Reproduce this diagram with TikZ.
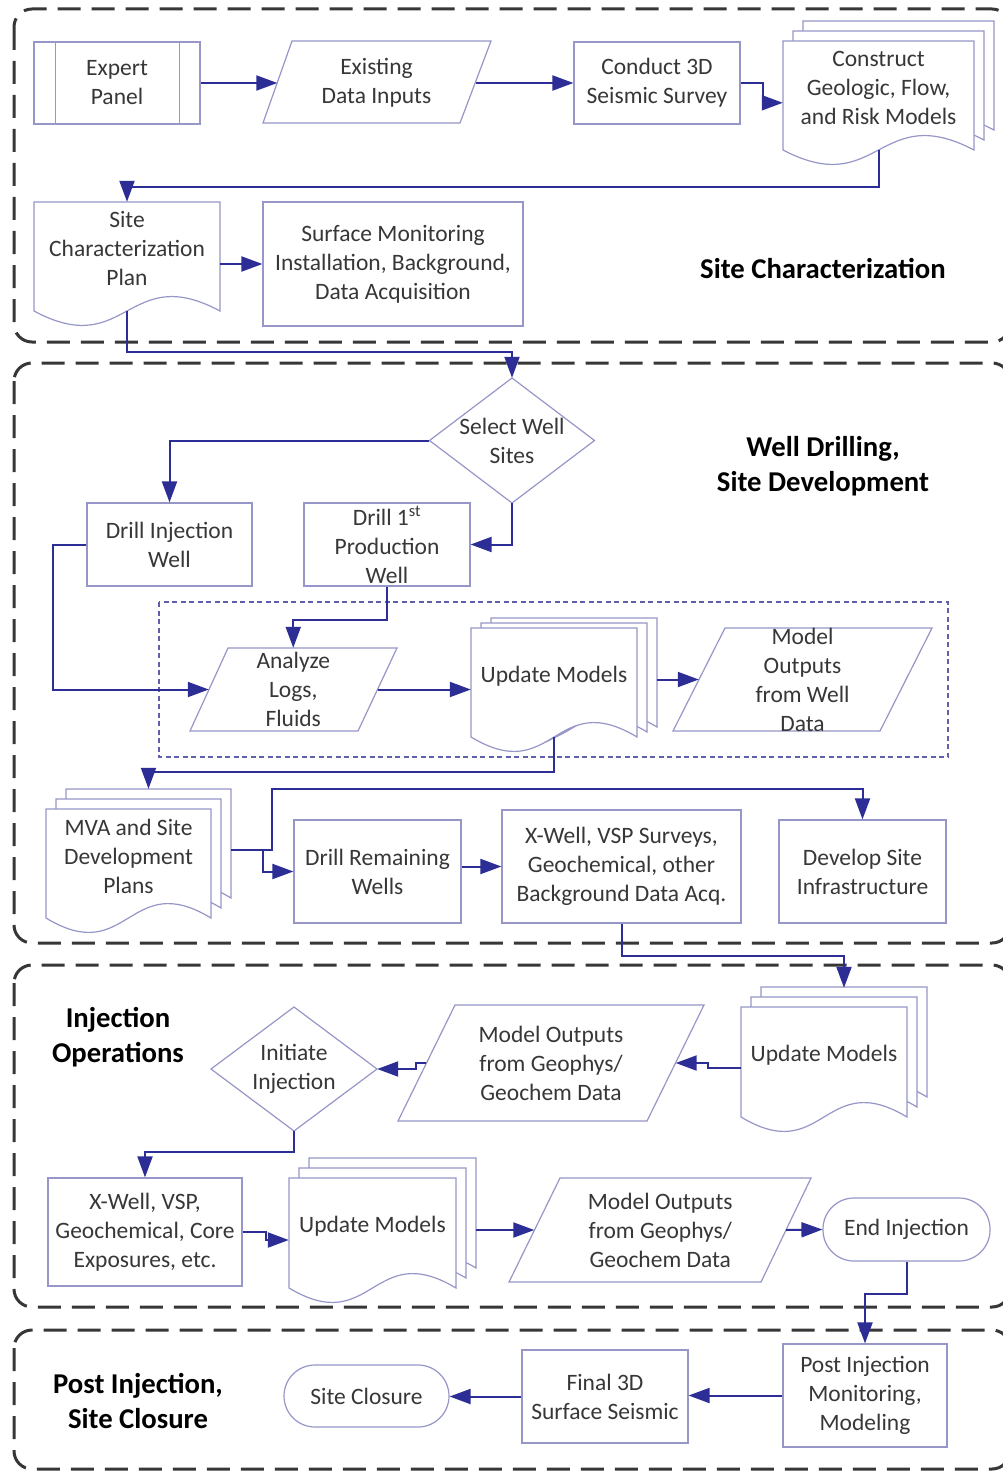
\documentclass[tikz,border=0pt]{standalone}
\usepackage{fontspec}
\setmainfont{Carlito}
\usetikzlibrary{arrows.meta,calc}
\definecolor{nb}{RGB}{150,150,200}
\definecolor{arr}{RGB}{44,46,150}
\definecolor{dsh}{RGB}{55,55,55}
\definecolor{dotc}{RGB}{95,95,170}
\definecolor{txt}{RGB}{55,55,55}
\tikzset{
 shp/.style={draw=nb, line width=1.2pt, fill=white},
 box/.style={shp, inner sep=0pt, align=center, text=txt, font=\fontsize{23.5}{29}\selectfont},
 lbl/.style={inner sep=0pt, align=center, text=txt, font=\fontsize{23.5}{29}\selectfont},
 ttl/.style={inner sep=0pt, align=center, text=black, font=\bfseries\fontsize{28.7}{35}\selectfont},
 conn/.style={draw=arr, line width=2pt, -{Triangle[length=21pt,width=15pt]}},
 sect/.style={draw=dsh, line width=3pt, dash pattern=on 23pt off 11pt, rounded corners=18pt},
 dotbox/.style={draw=dotc, line width=2pt, dash pattern=on 5pt off 3.5pt},
}
\newcommand\docpath[5]{({#1},{#2}) -- ({#3},{#2}) -- ({#3},{#4}) .. controls ({(#1+#3)/2},{#4-#5}) and ({(#1+#3)/2},{#4+#5}) .. ({#1},{#4}) -- cycle}
\newcommand\drawdoc[5]{\path[shp] \docpath{#1}{#2}{#3}{#4}{#5};}
\newcommand\multidoc[6]{%
 \drawdoc{#1+2*#5}{#2-2*#6}{#3+2*#5}{#4-2*#6}{50}%
 \drawdoc{#1+#5}{#2-#6}{#3+#5}{#4-#6}{50}%
 \drawdoc{#1}{#2}{#3}{#4}{50}}
\newcommand\mypara[6]{\path[shp] (#1,#5) -- (#2,#5) -- (#4,#6) -- (#3,#6) -- cycle;}
\begin{document}
\begin{tikzpicture}[x=1pt,y=-1pt]
\useasboundingbox (0,0) rectangle (1002,1471);
\fill[white] (0,0) rectangle (1002,1471);
% sections
\draw[sect] (14,9) rectangle (1010,342);
\draw[sect] (14,363) rectangle (1010,943);
\draw[sect] (14,965) rectangle (1010,1307);
\draw[sect] (14,1330) rectangle (1010,1469);
\draw[dotbox] (159,602) rectangle (948,757);
% ---- Site Characterization
\node[box, minimum width=166pt, minimum height=82pt] (ep) at (117,83) {Expert\\Panel};
\draw[draw=nb, line width=1.2pt] ($(ep.north west)+(22,0)$) -- ($(ep.south west)+(22,0)$);
\draw[draw=nb, line width=1.2pt] ($(ep.north east)+(-21,0)$) -- ($(ep.south east)+(-21,0)$);
\mypara{292}{491}{263}{460}{41}{123}
\node[lbl, minimum width=198pt, minimum height=82pt] (edi) at (376.5,83) {Existing\\Data Inputs};
\node[box, minimum width=166pt, minimum height=82pt] (c3d) at (657,83) {Conduct 3D\\Seismic Survey};
\multidoc{783}{41}{974}{150}{10}{10}
\node[lbl, minimum width=191pt, minimum height=94pt] (cgm) at (878.5,88) {Construct\\Geologic, Flow,\\and Risk Models};
\drawdoc{34}{202}{220}{311}{50}
\node[lbl, minimum width=186pt, minimum height=94pt] (scp) at (127,249) {Site\\Characterization\\Plan};
\node[box, minimum width=260pt, minimum height=124pt] (smi) at (393,264) {Surface Monitoring\\Installation, Background,\\Data Acquisition};
\node[ttl] (t1) at (823,269) {Site Characterization};
% ---- Well Drilling
\path[shp] (512,378) -- (594.5,440.5) -- (512,503) -- (429.5,440.5) -- cycle;
\node[lbl, minimum width=165pt, minimum height=125pt] (sws) at (512,440.5) {Select Well\\Sites};
\node[box, minimum width=165pt, minimum height=83pt] (diw) at (169.5,544.5) {Drill Injection\\Well};
\node[box, minimum width=166pt, minimum height=83pt] (dpw) at (387,544.5) {Drill 1\textsuperscript{st}\\Production\\Well};
\mypara{228}{397}{190}{358}{648}{731}
\node[lbl, minimum width=168.5pt, minimum height=83pt] (alf) at (293.25,689.5) {Analyze\\Logs,\\Fluids};
\multidoc{471}{628}{637}{737}{10}{5}
\node[lbl, minimum width=166pt, minimum height=94pt] (um1) at (554,676) {Update Models};
\mypara{725}{932}{673}{880}{628}{731}
\node[lbl, minimum width=207pt, minimum height=103pt] (mow) at (802.5,679.5) {Model\\Outputs\\from Well\\Data};
\multidoc{46}{809}{211}{918}{10}{10}
\node[lbl, minimum width=165pt, minimum height=94pt] (mva) at (128.5,856) {MVA and Site\\Development\\Plans};
\node[box, minimum width=167pt, minimum height=103pt] (drw) at (377.5,871.5) {Drill Remaining\\Wells};
\node[box, minimum width=239pt, minimum height=113pt] (xws) at (621.5,866.5) {X-Well, VSP Surveys,\\Geochemical, other\\Background Data Acq.};
\node[box, minimum width=167pt, minimum height=103pt] (dsi) at (862.5,871.5) {Develop Site\\Infrastructure};
\node[ttl] (t2) at (823,466.5) {Well Drilling,\\Site Development};
% ---- Injection Operations
\multidoc{741}{1007}{907}{1117}{10}{10}
\node[lbl, minimum width=166pt, minimum height=94pt] (um2) at (824,1055) {Update Models};
\mypara{455}{704}{398}{647}{1005}{1121}
\node[lbl, minimum width=249pt, minimum height=116pt] (mog1) at (551,1063) {Model Outputs\\from Geophys/\\Geochem Data};
\path[shp] (294,1007) -- (377,1069) -- (294,1131) -- (211,1069) -- cycle;
\node[lbl, minimum width=166pt, minimum height=124pt] (ii) at (294,1069) {Initiate\\Injection};
\node[box, minimum width=194pt, minimum height=108pt] (xwc) at (145,1232) {X-Well, VSP,\\Geochemical, Core\\Exposures, etc.};
\multidoc{289}{1178}{456}{1288}{10}{10}
\node[lbl, minimum width=167pt, minimum height=94pt] (um3) at (372.5,1226) {Update Models};
\mypara{560}{811}{509}{761}{1178}{1282}
\node[lbl, minimum width=251.5pt, minimum height=104pt] (mog2) at (660.25,1230) {Model Outputs\\from Geophys/\\Geochem Data};
\node[box, rounded corners=31pt, minimum width=167pt, minimum height=63pt] (ei) at (906.5,1229.5) {End Injection};
\node[ttl] (t3) at (118,1037.5) {Injection\\Operations};
% ---- Post Injection
\node[box, minimum width=164pt, minimum height=103pt] (pim) at (865,1395.5) {Post Injection\\Monitoring,\\Modeling};
\node[box, minimum width=166pt, minimum height=93pt] (f3d) at (605,1396.5) {Final 3D\\Surface Seismic};
\node[box, rounded corners=31pt, minimum width=165pt, minimum height=62pt] (sc) at (366.5,1396) {Site Closure};
\node[ttl] (t4) at (138,1401) {Post Injection,\\Site Closure};
% ---- connectors
\draw[conn] (ep.east) -- (edi.west);
\draw[conn] (edi.east) -- (c3d.west);
\draw[conn] (c3d.east) -- ++(22,0) |- ($(cgm.north west)+(0,62)$);
\draw[conn] ($(cgm.south)+(0,15)$) -- ++(0,37) -| (scp.north);
\draw[conn] (scp.east |- smi.west) -- (smi.west);
\draw[conn] ($(scp.south)+(0,15)$) -- ++(0,41) -| (sws.north);
\draw[conn] (sws.west) -| (diw.north);
\draw[conn] (sws.south) |- (dpw.east);
\draw[conn] (dpw.south) -- ++(0,33) -| (alf.north);
\draw[conn] (diw.west) -- ++(-33,0) |- (alf.west);
\draw[conn] (alf.east) -- (um1.west |- alf.east);
\draw[conn] ($(um1.east |- mow.west)+(20,0)$) -- (mow.west);
\draw[conn] ($(um1.south)+(0,14)$) -- ++(0,35) -| ($(mva.north)+(20,-20)$);
\coordinate (mvaR) at ($(mva.east)+(20,-6)$);
\draw[conn] (mvaR) -- ++(41,0) |- ($(dsi.north)+(0,-30)$) -- (dsi.north);
\draw[conn] (mvaR) -- ++(32,0) |- (drw.west);
\draw[conn] (drw.east |- xws.west) -- (xws.west);
\draw[conn] (xws.south) -- ++(0,32) -| ($(um2.north)+(20,-20)$);
\draw[conn] ($(um2.west)+(0,13)$) -- ++(-33,0) |- (mog1.east);
\draw[conn] (mog1.west) -- ++(-10,0) |- (ii.east);
\draw[conn] (ii.south) -- ++(0,21) -| (xwc.north);
\draw[conn] (xwc.east) -- ++(23,0) |- ($(um3.west)+(0,14)$);
\draw[conn] ($(um3.east |- mog2.west)+(20,0)$) -- (mog2.west);
\draw[conn] (mog2.east) -- (ei.west);
\draw[conn] (ei.south) -- ++(0,32) -| (pim.north);
\draw[conn] (pim.west) -- (f3d.east |- pim.west);
\draw[conn] (f3d.west) -- (sc.east |- f3d.west);
\end{tikzpicture}
\end{document}
